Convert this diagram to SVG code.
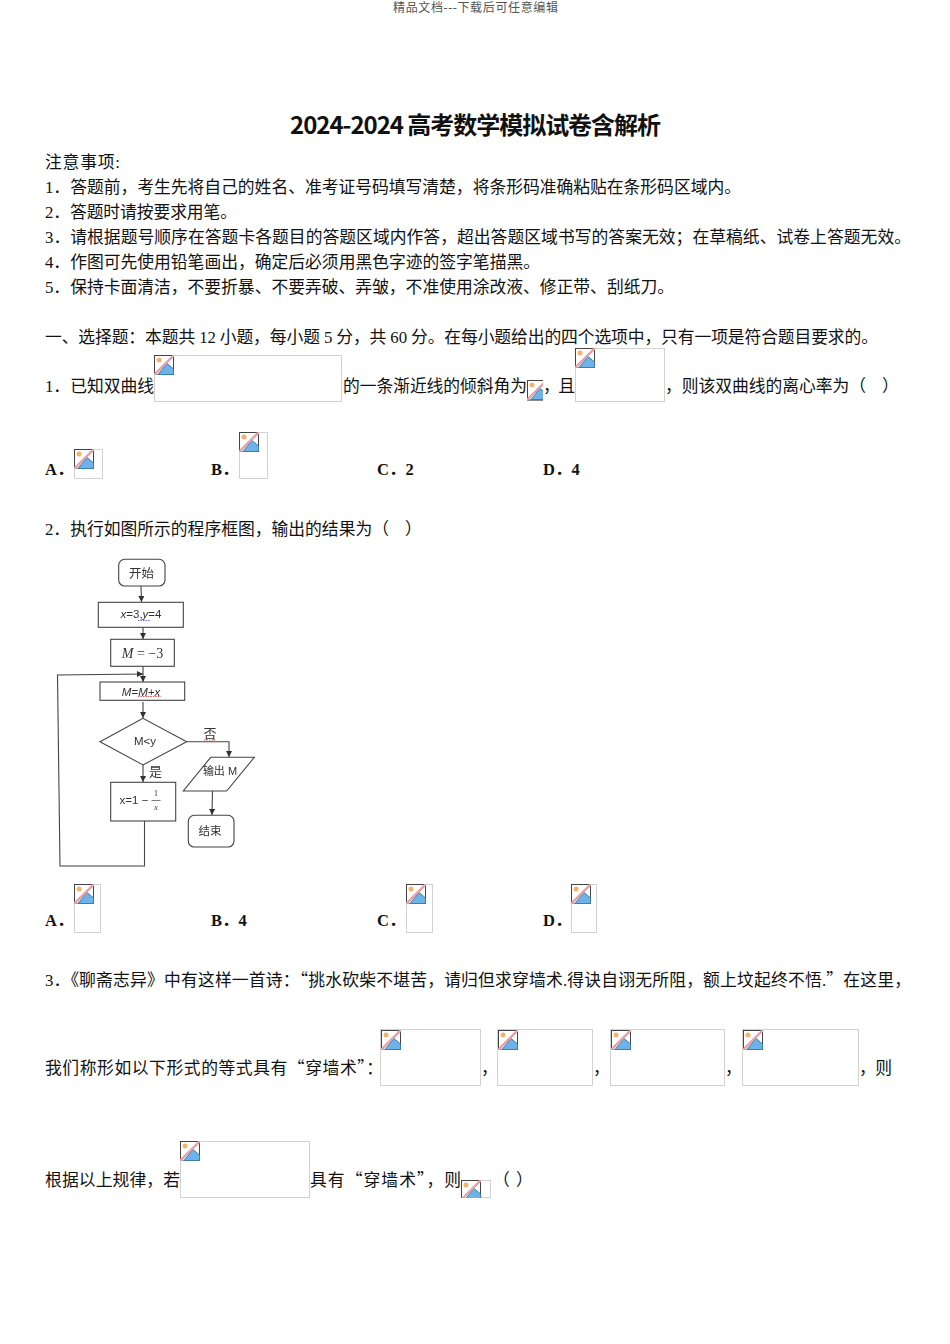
<svg xmlns="http://www.w3.org/2000/svg" width="950" height="1344" viewBox="0 0 950 1344">
<style>
text{font-family:"Liberation Serif","Noto Sans CJK SC",serif;font-size:16.8px;fill:#111}
.hd{font-size:12px;fill:#555}
.ti{font-family:"Noto Sans CJK SC",sans-serif;font-size:24px;font-weight:700;fill:#111}
.op{font-weight:700;font-size:16.5px}
.q{font-family:"Noto Sans CJK SC",sans-serif}
.ph{fill:#fff;stroke:#d2d2d2;stroke-width:1}
.nd{fill:#fff;stroke:#444;stroke-width:1.1}
.cn{fill:none;stroke:#444;stroke-width:1.1}
.ar{marker-end:url(#a)}
.fl{font-family:"Liberation Sans","Noto Sans CJK SC",sans-serif;font-size:11.500px;fill:#333;text-anchor:middle}
.sf{font-family:"Liberation Serif",serif}
</style>
<defs>
<filter id="s" x="-5%" y="-5%" width="110%" height="110%"><feGaussianBlur stdDeviation="0.35"/></filter>
<marker id="a" markerWidth="7" markerHeight="7" refX="6" refY="3" orient="auto" markerUnits="userSpaceOnUse"><path d="M0 0L6 3L0 6Z" fill="#333"/></marker>
<symbol id="b">
<rect x="0.5" y="0.5" width="19" height="19.5" fill="#fff" stroke="#444"/>
<circle cx="5" cy="5" r="2.5" fill="#f4b26a"/>
<path d="M4 19.5L13 8.500L19.500 14V19.500Z" fill="#6db3e8" stroke="#3b7fb0"/>
<path d="M0 20L20 0" stroke="#e8a0a8" stroke-width="2.400"/>
</symbol>
</defs>
<rect width="950" height="1344" fill="#fff"/>
<text class="hd" x="393" y="12" textLength="165">精品文档---下载后可任意编辑</text>
<text class="ti" x="290" y="134" textLength="371">2024-2024 高考数学模拟试卷含解析</text>
<text x="45" y="168" textLength="75">注意事项:</text>
<text x="45" y="193" textLength="696">1．答题前，考生先将自己的姓名、准考证号码填写清楚，将条形码准确粘贴在条形码区域内。</text>
<text x="45" y="218" textLength="192">2．答题时请按要求用笔。</text>
<text x="45" y="243" textLength="866">3．请根据题号顺序在答题卡各题目的答题区域内作答，超出答题区域书写的答案无效；在草稿纸、试卷上答题无效。</text>
<text x="45" y="268" textLength="495">4．作图可先使用铅笔画出，确定后必须用黑色字迹的签字笔描黑。</text>
<text x="45" y="293" textLength="629">5．保持卡面清洁，不要折暴、不要弄破、弄皱，不准使用涂改液、修正带、刮纸刀。</text>
<text x="45" y="343" textLength="833">一、选择题：本题共 12 小题，每小题 5 分，共 60 分。在每小题给出的四个选项中，只有一项是符合题目要求的。</text>
<text x="45" y="392" textLength="109">1．已知双曲线</text>
<text x="343" y="392" textLength="184">的一条渐近线的倾斜角为</text>
<text x="543" y="392" textLength="32">，且</text>
<text x="665" y="392" textLength="201">，则该双曲线的离心率为（</text>
<text x="882" y="392">）</text>
<text class="op" x="45" y="475">A．</text>
<text class="op" x="211" y="475">B．</text>
<text class="op" x="377" y="475">C．2</text>
<text class="op" x="543" y="475">D．4</text>
<text x="45" y="535" textLength="344">2．执行如图所示的程序框图，输出的结果为（</text>
<text x="405" y="535">）</text>
<text class="op" x="45" y="926">A．</text>
<text class="op" x="211" y="926">B．4</text>
<text class="op" x="377" y="926">C．</text>
<text class="op" x="543" y="926">D．</text>
<text x="45" y="986" textLength="866">3．《聊斋志异》中有这样一首诗：<tspan class="q">“</tspan>挑水砍柴不堪苦，请归但求穿墙术.得诀自诩无所阻，额上坟起终不悟.<tspan class="q">”</tspan>在这里，</text>
<text x="45" y="1074" textLength="338">我们称形如以下形式的等式具有<tspan class="q">“</tspan>穿墙术<tspan class="q">”</tspan>：</text>
<text x="481" y="1074">，</text>
<text x="593" y="1074">，</text>
<text x="725" y="1074">，</text>
<text x="859" y="1074" textLength="33">，则</text>
<text x="45" y="1186" textLength="135">根据以上规律，若</text>
<text x="310" y="1186" textLength="151">具有<tspan class="q">“</tspan>穿墙术<tspan class="q">”</tspan>，则</text>
<text x="493" y="1186">（</text>
<text x="516" y="1186">）</text>
<g id="placeholders">
<rect class="ph" x="154.500" y="355.500" width="187" height="46"/><use href="#b" x="154" y="355" width="20" height="20"/>
<rect class="ph" x="527.500" y="380.500" width="15" height="20"/><use href="#b" x="527" y="380" width="16" height="21"/>
<rect class="ph" x="575.500" y="348.500" width="89" height="53"/><use href="#b" x="575" y="348" width="20" height="20"/>
<rect class="ph" x="74.500" y="449.500" width="28" height="29"/><use href="#b" x="74" y="449" width="20" height="20"/>
<rect class="ph" x="239.500" y="432.500" width="28" height="46"/><use href="#b" x="239" y="432" width="20" height="20"/>
<rect class="ph" x="74.500" y="884.500" width="26" height="48"/><use href="#b" x="74" y="884" width="20" height="20"/>
<rect class="ph" x="406.500" y="884.500" width="26" height="48"/><use href="#b" x="406" y="884" width="20" height="20"/>
<rect class="ph" x="571.500" y="884.500" width="25" height="48"/><use href="#b" x="571" y="884" width="20" height="20"/>
<rect class="ph" x="380.500" y="1029.500" width="100" height="56"/><use href="#b" x="381" y="1030" width="20" height="20"/>
<rect class="ph" x="497.500" y="1029.500" width="95" height="56"/><use href="#b" x="498" y="1030" width="20" height="20"/>
<rect class="ph" x="610.500" y="1029.500" width="114" height="56"/><use href="#b" x="611" y="1030" width="20" height="20"/>
<rect class="ph" x="742.500" y="1029.500" width="116" height="56"/><use href="#b" x="743" y="1030" width="20" height="20"/>
<rect class="ph" x="180.500" y="1141.500" width="129" height="56"/><use href="#b" x="180" y="1141" width="20" height="20"/>
<rect class="ph" x="461.500" y="1180.500" width="29" height="17"/><use href="#b" x="461" y="1180" width="20" height="18"/>
</g>
<g id="flowchart" filter="url(#s)">
<g id="connectors">
<path class="cn ar" d="M141 586L141.500 602"/>
<path class="cn ar" d="M143 627V639"/>
<path class="cn ar" d="M143 666V682"/>
<path class="cn ar" d="M144.500 821V866H60L57.500 675L143 674"/>
<path class="cn ar" d="M143 702V718"/>
<path class="cn ar" d="M143 765V782"/>
<path class="cn ar" d="M186.700 741.700H229V757"/>
<path class="cn ar" d="M212.500 791L212 815"/>
</g>
<g id="n1"><rect class="nd" x="118.700" y="559.300" width="46.300" height="26.700" rx="6"/><text class="fl" style="font-size:12.500px" x="141.500" y="578">开始</text></g>
<g id="n2"><rect class="nd" x="98.300" y="602.300" width="85" height="25"/><text class="fl" x="141" y="618"><tspan font-style="italic">x</tspan>=3,<tspan font-style="italic">y</tspan>=4</text></g>
<g id="n3"><rect class="nd" x="110.700" y="639.300" width="63.600" height="27"/><text class="fl sf" style="font-size:14px" x="142.500" y="657.500"><tspan font-style="italic">M</tspan> = −3</text></g>
<g id="n4"><rect class="nd" x="100" y="682" width="84.700" height="18.300"/><text class="fl" x="141" y="695.500"><tspan font-style="italic">M</tspan>=<tspan font-style="italic">M+x</tspan></text></g>
<g id="n5"><path class="nd" d="M100 741.700L143 718.300L186.700 741.700L143 765Z"/><text class="fl" x="145" y="745">M&lt;y</text></g>
<g id="n6"><rect class="nd" x="110.700" y="782.300" width="65" height="38.700"/><text class="fl" x="134" y="804">x=1 −</text><text class="fl sf" style="font-size:8px" x="156" y="796">1</text><path d="M151.500 800.500H160.500" stroke="#444" stroke-width=".7"/><text class="fl sf" style="font-size:8px;font-style:italic" x="156" y="810">x</text></g>
<g id="n7"><path class="nd" d="M210.700 757.300H254.300L226.700 791H183.300Z"/><text class="fl" style="font-size:11px" x="220" y="775">输出 M</text></g>
<g id="n8"><rect class="nd" x="188.300" y="815.300" width="45.700" height="31.700" rx="6"/><text class="fl" x="210" y="835">结束</text></g>
<text class="fl" style="font-size:13px" x="210" y="738">否</text>
<text class="fl" style="font-size:13px" x="155.500" y="776">是</text>
<path d="M204 740H216" stroke="#d33" stroke-width=".8" stroke-dasharray="1.500 1" fill="none"/>
<path d="M138 620.500H150" stroke="#44c" stroke-width=".8" stroke-dasharray="1.500 1" fill="none"/>
<path d="M138 696.500H161" stroke="#d33" stroke-width=".8" stroke-dasharray="1.500 1" fill="none"/>
</g>
</svg>
